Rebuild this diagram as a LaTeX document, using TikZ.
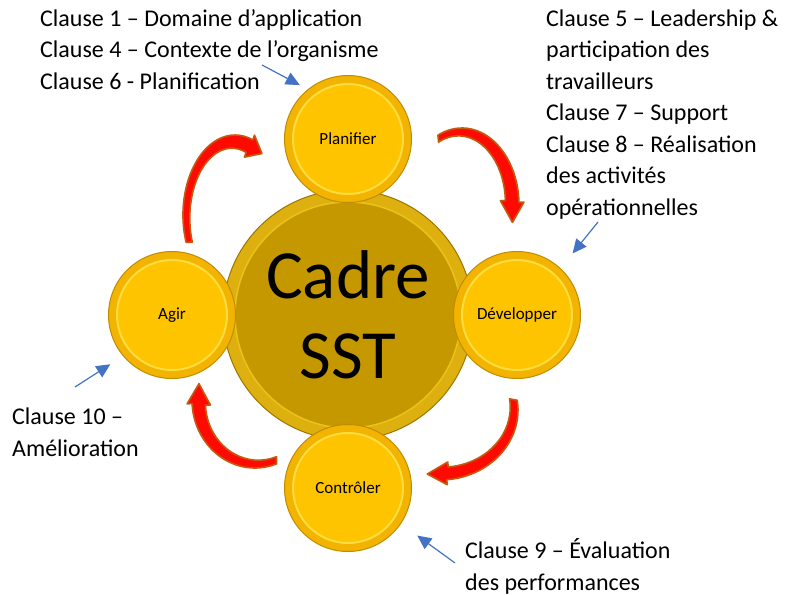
\documentclass[tikz,border=0pt]{standalone}
\usepackage{fontspec}
\setmainfont{Carlito}
\usetikzlibrary{calc,arrows.meta}

\definecolor{cadregold}{HTML}{C69800}
\definecolor{cadrerim}{HTML}{DDB010}
\definecolor{cadreedge}{HTML}{9C7500}
\definecolor{cadreline}{HTML}{EBC21A}
\definecolor{discface}{HTML}{FFC400}
\definecolor{discrim}{HTML}{F2B400}
\definecolor{discedge}{HTML}{C08C00}
\definecolor{discline}{HTML}{FFDC40}
\definecolor{arrowred}{HTML}{FF0A00}
\definecolor{arrowedge}{HTML}{C55A11}
\definecolor{pointblue}{HTML}{4472C4}

% curved red arrow: cx, cy, rx, ry, tail angle, head angle, tip angle
\newcommand{\redarrow}[7]{%
  \filldraw[redarrow] ($(#1,#2)+(#5:{#3} and {#4})$)
    arc[start angle=#5, end angle=#6, x radius=#3, y radius=#4]
    -- ($(#1,#2)+(#6:{#3+5} and {#4+5})$)
    -- ($(#1,#2)+(#7:{#3-5} and {#4-5})$)
    -- ($(#1,#2)+(#5:2.5)-(#6:2.5)+(#6:{#3-15} and {#4-15})$)
    -- ($(#1,#2)+(#5:2.5)-(#6:2.5)+(#6:{#3-10} and {#4-10})$)
    arc[start angle=#6, end angle=#5, x radius={#3-10}, y radius={#4-10}]
    -- cycle;}

\begin{document}
\begin{tikzpicture}[x=1pt, y=-1pt,
  bigdisc/.style = {circle, inner sep=0pt, minimum size=250pt, fill=cadrerim, draw=cadreedge, line width=1pt,
    path picture={\fill[cadregold] (path picture bounding box.center) circle[radius=113pt];
      \draw[cadreline, line width=1.5pt] (path picture bounding box.center) circle[radius=113pt];},
    align=center, font=\fontsize{69}{80}\selectfont},
  smalldisc/.style = {circle, inner sep=0pt, minimum size=127pt, fill=discrim, draw=discedge, line width=1pt,
    path picture={\fill[discface] (path picture bounding box.center) circle[radius=55pt];
      \draw[discline, line width=2pt] (path picture bounding box.center) circle[radius=55pt];},
    font=\fontsize{17}{20}\selectfont},
  clausetext/.style = {anchor=base west, align=left, inner sep=0pt, font=\fontsize{24}{31.5}\selectfont},
  pointer/.style = {draw=pointblue, line width=1.2pt, -{Triangle[length=14pt, width=13pt]}},
  redarrow/.style = {fill=arrowred, draw=arrowedge, line width=1.6pt, line join=round}]
  \useasboundingbox (0,0) rectangle (788,595);

  \node[bigdisc] (cadre) at (348,315) {Cadre\\SST};
  \node[smalldisc, above of=cadre, node distance=176pt] (planifier) {Planifier};
  \node[smalldisc, right of=cadre, node distance=169pt] (developper) {Développer};
  \node[smalldisc, below of=cadre, node distance=173pt] (controler) {Contrôler};
  \node[smalldisc, left of=cadre, node distance=176pt] (agir) {Agir};

  % cycle arrows
  \redarrow{235}{215}{52}{80}{160}{290}{305}
  \redarrow{462}{205}{57}{77}{245}{358}{14}
  \redarrow{440}{410}{78}{70}{-8}{85}{100}
  \redarrow{255}{400}{63}{68}{70}{177}{195}

  % clauses (base = last line)
  \node[clausetext] (txtplan) at (40,89) {Clause 1 – Domaine d’application\\Clause 4 – Contexte de l’organisme\\Clause 6 - Planification};
  \node[clausetext] (txtdev) at (546,215) {Clause 5 – Leadership \&\\participation des\\travailleurs\\Clause 7 – Support\\Clause 8 – Réalisation\\des activités\\opérationnelles};
  \node[clausetext] (txteval) at (465,590) {Clause 9 – Évaluation\\des performances};
  \node[clausetext] (txtamel) at (12,456) {Clause 10 –\\Amélioration};

  \coordinate (fromplan) at (262,65);
  \coordinate (fromdev) at (598,222);
  \coordinate (fromeval) at (455,563);
  \coordinate (fromamel) at (75,387);
  \draw[pointer, shorten >=9pt] (fromplan) -- (planifier.129);
  \draw[pointer, shorten >=19pt] (fromdev) -- (developper.47);
  \draw[pointer, shorten >=20pt] (fromeval) -- (controler.-34);
  \draw[pointer, shorten >=15pt] (fromamel) -- (agir.220);
\end{tikzpicture}
\end{document}
